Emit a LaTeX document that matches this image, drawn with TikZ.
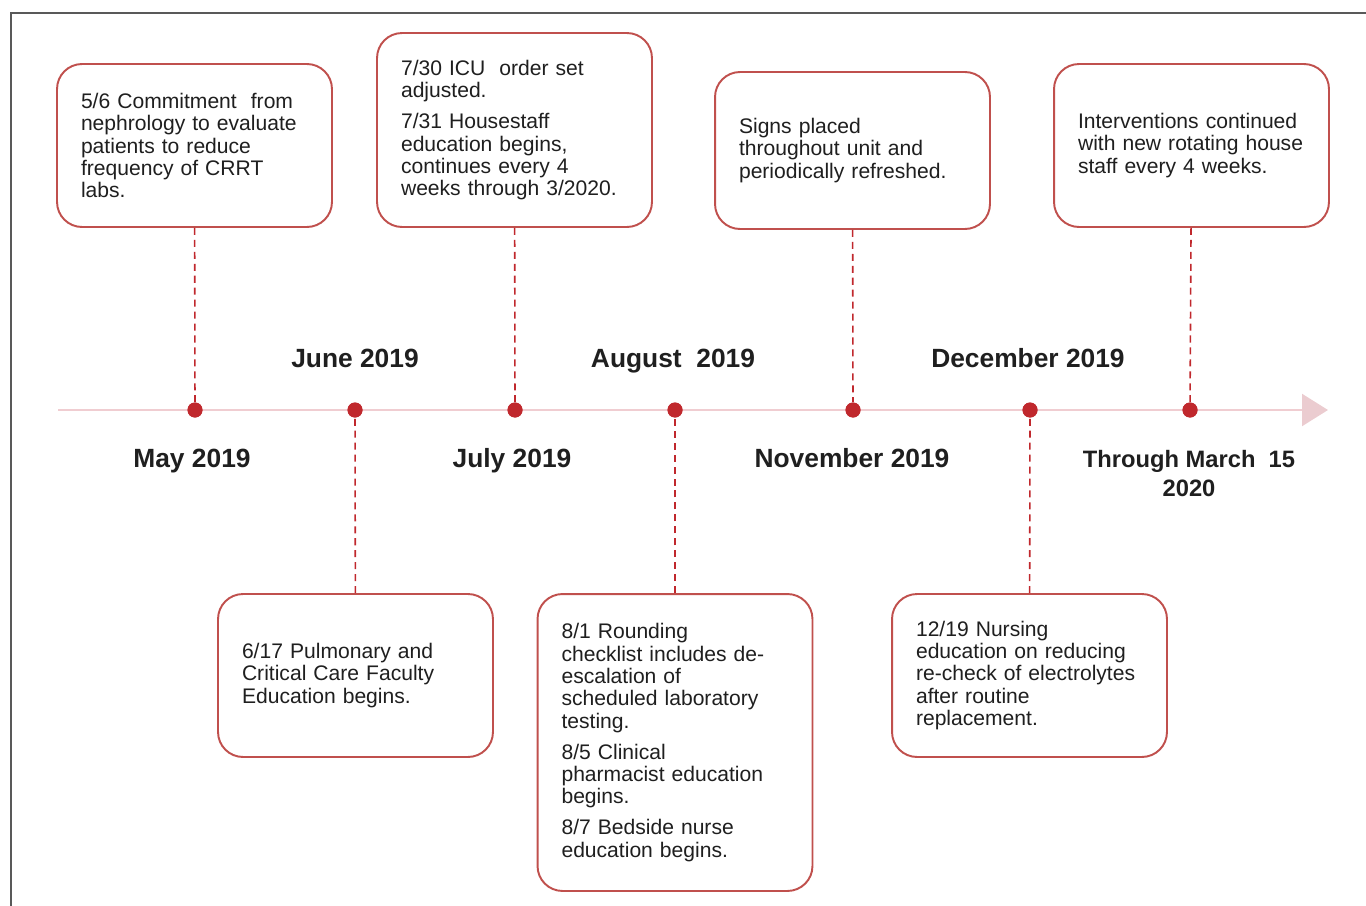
\documentclass[tikz,border=0pt]{standalone}
\usepackage{fontspec}
\setmainfont{Liberation Sans}
\usetikzlibrary{arrows.meta,positioning}
\tikzset{>=Stealth}
\definecolor{boxred}{HTML}{C0504D}
\definecolor{dotred}{HTML}{C0282D}
\definecolor{axispink}{HTML}{F0CDD1}
\definecolor{tippink}{HTML}{EBCCD0}
\definecolor{textgray}{HTML}{1F1F1F}
\definecolor{framegray}{HTML}{595959}

\begin{document}
\begin{tikzpicture}[
    x=0.02cm, y=-0.02cm,
    event/.style={draw=boxred, line width=1.1pt, rounded corners=0.5cm, fill=white, text width=4.54cm, inner xsep=0.48cm, inner ysep=0pt, align=left, text=textgray, font=\fontsize{12}{12.7}\selectfont},
    month/.style={text=textgray, text height=11pt, text depth=3pt, font=\fontsize{15}{17}\selectfont\bfseries},
    dot/.style={circle, fill=dotred, inner sep=0pt, minimum size=0.3cm},
    link/.style={draw=dotred, dash pattern=on 4pt off 2.8pt, line width=0.9pt},
    axis/.style={draw=axispink, line width=1.3pt}
  ]
    \useasboundingbox (0,0) rectangle (1366,906);
    % frame
    \coordinate (fbl) at (11,906);
    \coordinate (ftl) at (11,13);
    \coordinate (ftr) at (1366,13);
    \draw[framegray, line width=1.1pt] (fbl) -- (ftl) -- (ftr);

    % time axis
    \coordinate (axs) at (58,410);
    \coordinate (axe) at (1328,410);
    \draw[axis, -{Triangle[length=0.52cm, width=0.64cm, color=tippink]}] (axs) -- (axe);

    % events above the axis
    \node[event, minimum height=3.26cm] (bmay) at (194.5,145.5) {5/6 Commitment\ \ from\\nephrology to evaluate\\patients to reduce\\frequency of CRRT\\labs.};
    \node[event, minimum height=3.88cm] (bjul) at (514.5,130) {7/30 ICU\ \ order set\\adjusted.\\[5pt]7/31 Housestaff\\education begins,\\continues every 4\\weeks through 3/2020.};
    \node[event, minimum height=3.14cm] (bnov) at (852.5,150.5) {Signs placed\\throughout unit and\\periodically refreshed.};
    \node[event, minimum height=3.26cm] (bmar) at (1191.5,145.5) {Interventions continued\\with new rotating house\\staff every 4 weeks.};

    % events below the axis
    \node[event, minimum height=3.26cm] (bjun) at (355.5,675.5) {6/17 Pulmonary and\\Critical Care Faculty\\Education begins.};
    \node[event, minimum height=5.94cm] (baug) at (675,742.5) {8/1 Rounding\\checklist includes de-\\escalation of\\scheduled laboratory\\testing.\\[5pt]8/5 Clinical\\pharmacist education\\begins.\\[5pt]8/7 Bedside nurse\\education begins.};
    \node[event, minimum height=3.26cm] (bdec) at (1029.5,675.5) {12/19 Nursing\\education on reducing\\re-check of electrolytes\\after routine\\replacement.};

    % month labels
    \node[month] (lmay) at (192,460) {May 2019};
    \node[month] (ljun) at (355,360) {June 2019};
    \node[month] (ljul) at (512,460) {July 2019};
    \node[month] (laug) at (673,360) {August\ \ 2019};
    \node[month] (lnov) at (852,460) {November 2019};
    \node[month] (ldec) at (1028,360) {December 2019};
    \node[month, text height=, text depth=, align=center, font=\fontsize{13.5}{16.5}\selectfont\bfseries] (lmar) at (1189,474) {Through March\ \ 15\\2020};

    % dots on the axis
    \foreach \n/\x in {may/195, jun/355, jul/515, aug/675, nov/853, dec/1030, mar/1190}
      \node[dot] (\n) at (\x,410) {};

    % dashed links
    \draw[link] (bmay) -- (may);
    \draw[link] (bjul) -- (jul);
    \draw[link] (bnov) -- (nov);
    \draw[link] (bmar) -- (mar);
    \draw[link] (bjun) -- (jun);
    \draw[link] (baug) -- (aug);
    \draw[link] (bdec) -- (dec);
    \foreach \n in {may, jun, jul, aug, nov, dec, mar}
      \node[dot] at (\n) {};
  \end{tikzpicture}
\end{document}
